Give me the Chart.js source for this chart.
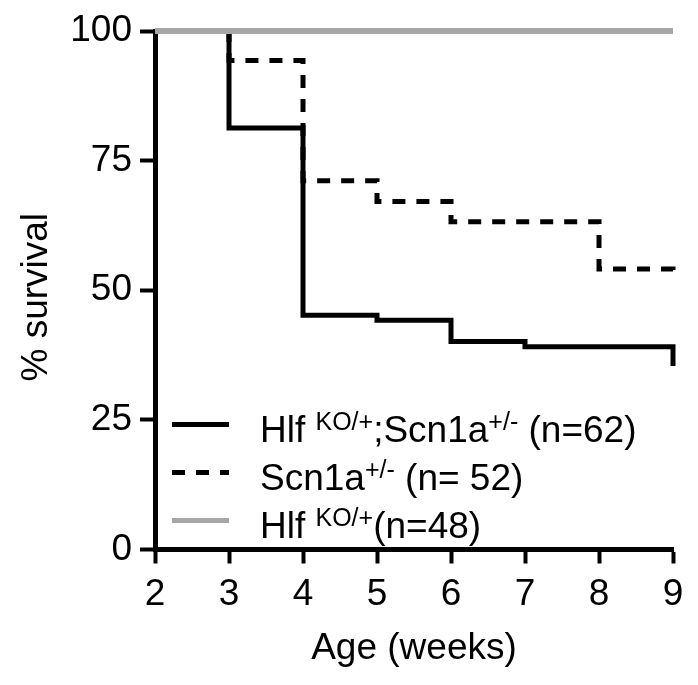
<!DOCTYPE html>
<html>
<head>
    <meta charset="utf-8">
    <title>Survival curves</title>
    <style type="text/css">
        body {
            margin: 0;
            background: #fff;
        }
    </style>
    <script type="text/javascript" src="https://cdn.jsdelivr.net/npm/chart.js@4.4.1/dist/chart.umd.min.js"></script>
</head>
<body>

<canvas id="survivalCanvas" width="698" height="685"></canvas>

<script>
    // values (% survival by week)
    var dkWeeks = [2, 3, 4, 5, 6, 7, 9];
    var dkSurvival = [100, 81.3, 45.2, 44.2, 40.1, 39.1, 35.4];

    var scnWeeks = [2, 3, 4, 5, 6, 8, 9];
    var scnSurvival = [100, 94.3, 71.1, 67.1, 63.2, 54.1, 53.3];

    var hlfWeeks = [2, 9];
    var hlfSurvival = [100, 100];

    var xTicks = [2, 3, 4, 5, 6, 7, 8, 9];
    var yTicks = [0, 25, 50, 75, 100];

    var yTitle = '% survival';
    var xTitle = 'Age (weeks)';

    // legend text pieces: [text, superscript?]
    var dkLabel = [["Hlf ", false], ["KO/+", true], [";Scn1a", false], ["+/-", true], [" (n=62)", false]];
    var scnLabel = [["Scn1a", false], ["+/-", true], [" (n= 52)", false]];
    var hlfLabel = [["Hlf ", false], ["KO/+", true], ["(n=48)", false]];

    var FONT = "'Liberation Sans', Arial, sans-serif";

    function toPoints(xs, ys) {
        var pts = [];
        for (var i = 0; i < xs.length; i++) {
            pts.push({x: xs[i], y: ys[i]});
        }
        return pts;
    }

    var legendRows = [
        {parts: dkLabel, color: '#000', dash: [], width: 5},
        {parts: scnLabel, color: '#000', dash: [13, 11], width: 5},
        {parts: hlfLabel, color: '#a6a6a6', dash: [], width: 5}
    ];

    // legend with superscripts + rotated y title placed like the original
    var kmLegend = {
        id: 'kmLegend',
        afterDraw: function (chart) {
            var ctx = chart.ctx;
            var area = chart.chartArea;
            ctx.save();
            for (var i = 0; i < legendRows.length; i++) {
                var row = legendRows[i];
                var y = area.bottom - 125 + i * 48;
                var x0 = area.left + 17;
                ctx.beginPath();
                ctx.strokeStyle = row.color;
                ctx.lineWidth = row.width;
                ctx.setLineDash(row.dash);
                ctx.moveTo(x0, y);
                ctx.lineTo(x0 + 57, y);
                ctx.stroke();
                ctx.setLineDash([]);

                var tx = x0 + 88;
                var base = y + 17.5;
                ctx.fillStyle = '#000';
                ctx.textBaseline = 'alphabetic';
                ctx.textAlign = 'left';
                for (var j = 0; j < row.parts.length; j++) {
                    var txt = row.parts[j][0];
                    if (row.parts[j][1]) {
                        ctx.font = "25px " + FONT;
                        ctx.fillText(txt, tx, base - 12);
                    } else {
                        ctx.font = "37px " + FONT;
                        ctx.fillText(txt, tx, base);
                    }
                    tx += ctx.measureText(txt).width;
                }
            }

            ctx.translate(47, (area.top + area.bottom) / 2 + 7);
            ctx.rotate(-Math.PI / 2);
            ctx.font = "37px " + FONT;
            ctx.textAlign = 'center';
            ctx.textBaseline = 'alphabetic';
            ctx.fillText(yTitle, 0, 0);
            ctx.restore();
        }
    };

    var chartdata = {
        datasets: [
            {
                label: 'Hlf KO/+;Scn1a+/- (n=62)',
                data: toPoints(dkWeeks, dkSurvival),
                borderColor: '#000',
                borderWidth: 5,
                stepped: 'before',
                pointRadius: 0,
                clip: false,
                order: 2
            },
            {
                label: 'Scn1a+/- (n= 52)',
                data: toPoints(scnWeeks, scnSurvival),
                borderColor: '#000',
                borderWidth: 5,
                borderDash: [13, 11],
                stepped: 'before',
                pointRadius: 0,
                clip: false,
                order: 3
            },
            {
                label: 'Hlf KO/+ (n=48)',
                data: toPoints(hlfWeeks, hlfSurvival),
                borderColor: '#a6a6a6',
                borderWidth: 6,
                stepped: 'before',
                pointRadius: 0,
                clip: false,
                order: 0
            }
        ]
    };

    var graphTarget = document.getElementById('survivalCanvas');

    var survivalGraph = new Chart(graphTarget, {
        type: 'line',
        data: chartdata,
        plugins: [kmLegend],
        options: {
            responsive: false,
            animation: false,
            devicePixelRatio: 1,
            layout: {padding: {top: 31, right: 25, bottom: 0, left: 0}},
            plugins: {
                legend: {display: false},
                tooltip: {enabled: false}
            },
            scales: {
                x: {
                    type: 'linear',
                    min: xTicks[0],
                    max: xTicks[xTicks.length - 1],
                    afterBuildTicks: function (scale) {
                        scale.ticks = xTicks.map(function (v) { return {value: v}; });
                    },
                    afterFit: function (scale) { scale.height = 135.5; },
                    border: {display: true, color: '#000', width: 5},
                    grid: {drawOnChartArea: false, drawTicks: true, tickLength: 14, tickWidth: 4, tickColor: '#000'},
                    ticks: {color: '#000', padding: 9, maxRotation: 0, autoSkip: false, font: {family: FONT, size: 37}},
                    title: {
                        display: true,
                        text: xTitle,
                        color: '#000',
                        font: {family: FONT, size: 37},
                        padding: {top: 0, bottom: 14}
                    }
                },
                y: {
                    min: yTicks[0],
                    max: yTicks[yTicks.length - 1],
                    afterBuildTicks: function (scale) {
                        scale.ticks = yTicks.map(function (v) { return {value: v}; });
                    },
                    afterFit: function (scale) { scale.width = 155; },
                    border: {display: true, color: '#000', width: 5},
                    grid: {drawOnChartArea: false, drawTicks: true, tickLength: 15, tickWidth: 4, tickColor: '#000'},
                    ticks: {color: '#000', padding: 8, font: {family: FONT, size: 37}},
                    title: {display: false}
                }
            }
        }
    });
</script>

</body>
</html>
